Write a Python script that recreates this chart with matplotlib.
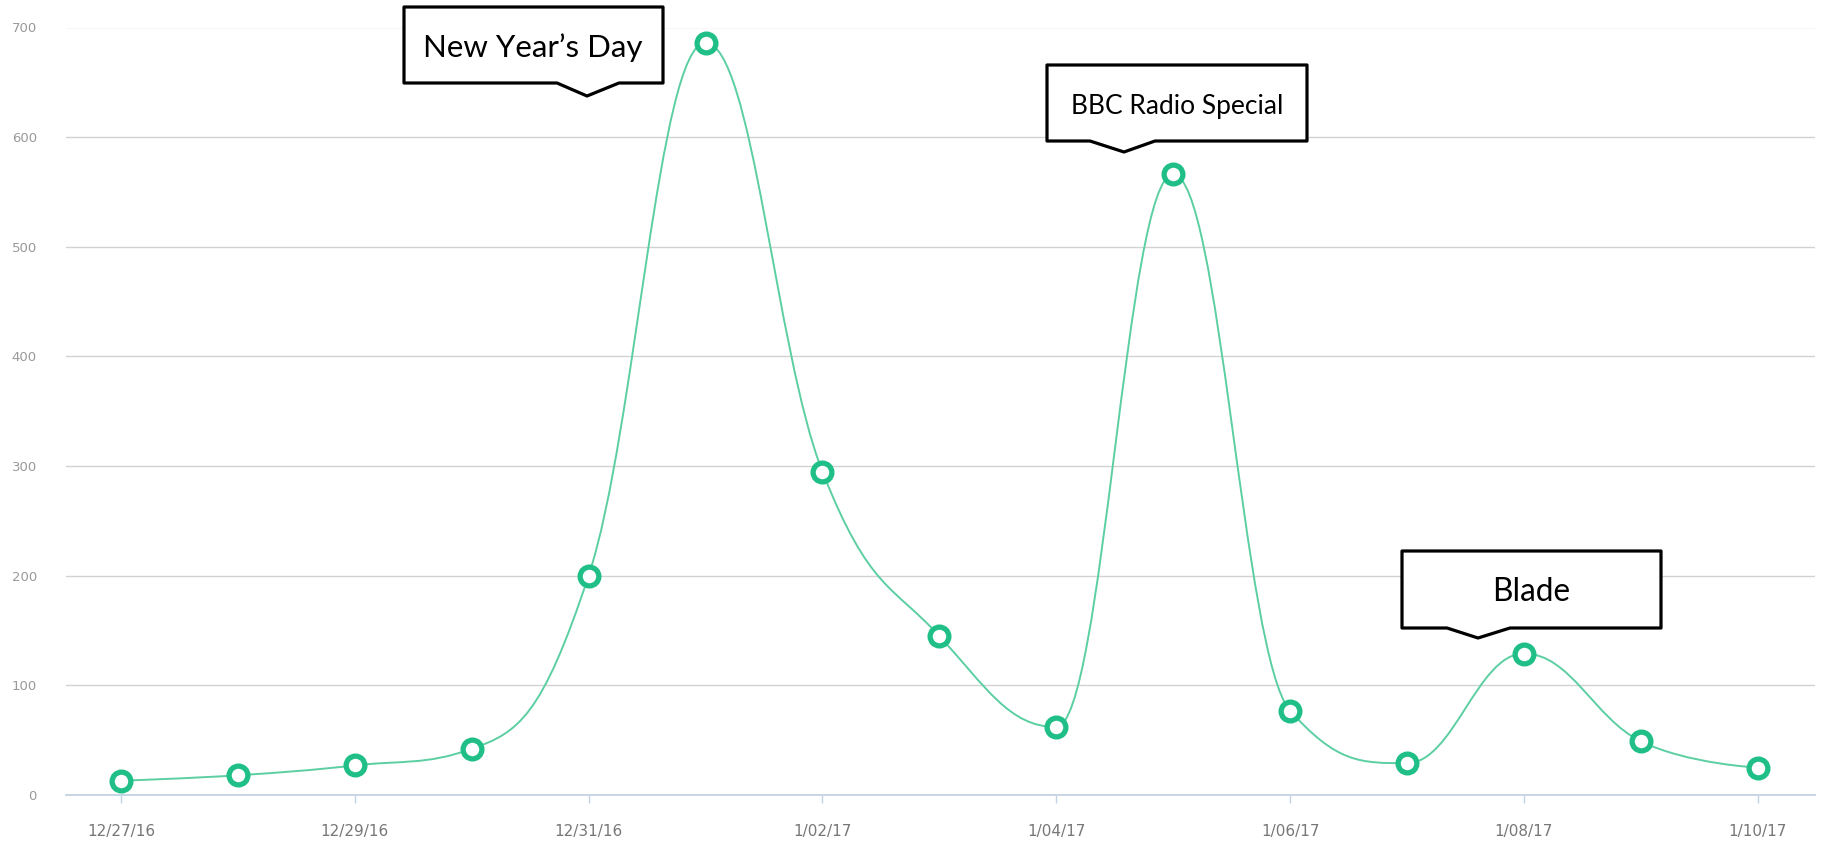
import matplotlib
matplotlib.use("Agg")
import matplotlib.pyplot as plt
from matplotlib.path import Path
from matplotlib.patches import PathPatch, Polygon

W, H = 1822, 841

dates = ['12/27/16', '12/28/16', '12/29/16', '12/30/16', '12/31/16', '1/01/17', '1/02/17',
         '1/03/17', '1/04/17', '1/05/17', '1/06/17', '1/07/17', '1/08/17', '1/09/17', '1/10/17']
values = [13, 18, 27, 42, 200, 686, 295, 145, 62, 566, 77, 29, 129, 49, 25]
y_ticks = [0, 100, 200, 300, 400, 500, 600, 700]
x_tick_pos = list(range(0, len(dates), 2))
x_tick_labels = [dates[i] for i in x_tick_pos]

# callouts: text, box (left, right, top, bottom), pointer (left, tip, right, tip_y), text pos, size (pixels)
callouts = [
    ("New Year\u2019s Day", (404, 663, 7, 83), (557, 587, 619, 96), (533, 57), 22.5),
    ("BBC Radio Special", (1047, 1307, 65, 141), (1090, 1124, 1155, 152), (1177, 114), 19),
    ("Blade", (1402, 1661, 551, 628), (1447, 1478, 1510, 638), (1531, 601), 22.8),
]

line_color = '#5ccfa2'
marker_color = '#1fbf87'


# same spline idea as highcharts (smoothing 1.5)
def spline_path(xs, ys, smoothing=1.5):
    n = len(xs)
    denom = smoothing + 1
    left = [None] * n
    right = [None] * n
    for i in range(1, n - 1):
        px, py = xs[i], ys[i]
        lx, ly = xs[i - 1], ys[i - 1]
        nx, ny = xs[i + 1], ys[i + 1]
        lcx = (smoothing * px + lx) / denom
        lcy = (smoothing * py + ly) / denom
        rcx = (smoothing * px + nx) / denom
        rcy = (smoothing * py + ny) / denom
        corr = 0
        if rcx != lcx:
            corr = (rcy - lcy) * (rcx - px) / (rcx - lcx) + py - rcy
        lcy += corr
        rcy += corr
        if lcy > ly and lcy > py:
            lcy = max(ly, py)
            rcy = 2 * py - lcy
        elif lcy < ly and lcy < py:
            lcy = min(ly, py)
            rcy = 2 * py - lcy
        if rcy > ny and rcy > py:
            rcy = max(ny, py)
            lcy = 2 * py - rcy
        elif rcy < ny and rcy < py:
            rcy = min(ny, py)
            lcy = 2 * py - rcy
        left[i] = (lcx, lcy)
        right[i] = (rcx, rcy)
    verts = [(xs[0], ys[0])]
    codes = [Path.MOVETO]
    for i in range(1, n):
        rc = right[i - 1] if right[i - 1] else (xs[i - 1], ys[i - 1])
        lc = left[i] if left[i] else (xs[i], ys[i])
        verts += [rc, lc, (xs[i], ys[i])]
        codes += [Path.CURVE4] * 3
    return Path(verts, codes)


def fig_xy(x, y):
    return (x / W, 1 - y / H)


fig = plt.figure(figsize=(W / 100, H / 100), dpi=100)
ax = fig.add_axes([66 / W, 1 - 795 / H, (1815 - 66) / W, (795 - 27.5) / H])

xs = list(range(len(values)))
ax.add_patch(PathPatch(spline_path(xs, values), facecolor='none', edgecolor=line_color,
                       lw=1.4, zorder=3))
ax.plot(xs, values, linestyle='none', marker='o', markersize=13.5, markerfacecolor='white',
        markeredgecolor=marker_color, markeredgewidth=3.8, zorder=4, clip_on=False)

ax.set_xlim(-0.47, len(values) - 1 + 0.49)
ax.set_ylim(0, 700)
ax.set_yticks(y_ticks)
ax.set_yticklabels([str(v) for v in y_ticks])
ax.set_xticks(x_tick_pos)
ax.set_xticklabels(x_tick_labels, family=['Liberation Sans Narrow', 'DejaVu Sans'],
                   fontsize=11, color='#777777')
for lab in ax.get_yticklabels():
    lab.set_fontsize(9.5)
    lab.set_color('#999999')

for s in ['top', 'right', 'left']:
    ax.spines[s].set_visible(False)
ax.spines['bottom'].set_color('#c4d2e2')
ax.spines['bottom'].set_linewidth(1.3)
ax.tick_params(axis='x', length=6, width=1, color='#c4d2e2', pad=15)
ax.tick_params(axis='y', length=0, pad=21)
ax.yaxis.grid(True, color='#d2d2d2', linewidth=1)
ax.set_axisbelow(True)

for text, box, ptr, tpos, size in callouts:
    x0, x1, y0, y1 = box
    pl, tip, pr, tipy = ptr
    pts = [(x0, y0), (x1, y0), (x1, y1), (pr, y1), (tip, tipy), (pl, y1), (x0, y1)]
    poly = Polygon([fig_xy(px, py) for px, py in pts], closed=True, transform=fig.transFigure,
                   facecolor='white', edgecolor='black', linewidth=2.3, joinstyle='round',
                   zorder=10)
    fig.add_artist(poly)
    tx, ty = fig_xy(*tpos)
    fig.text(tx, ty, text, ha='center', va='baseline', fontsize=size,
             family=['Lato', 'DejaVu Sans'], color='black', zorder=11)

fig.savefig('out.png', dpi=100, facecolor='white')
